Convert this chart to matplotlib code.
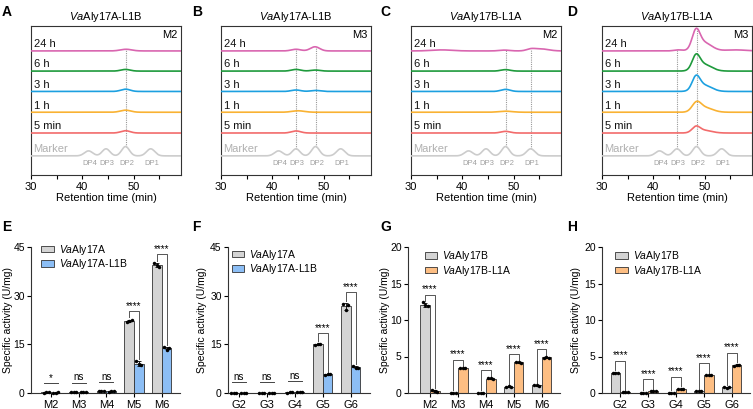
import numpy as np
import matplotlib
matplotlib.use('Agg')
import matplotlib.pyplot as plt
from matplotlib.patches import Patch

plt.rcParams['font.family'] = ['Liberation Sans', 'DejaVu Sans']
plt.rcParams['mathtext.fontset'] = 'custom'
plt.rcParams['mathtext.rm'] = 'Liberation Sans'
plt.rcParams['mathtext.it'] = 'Liberation Sans:italic'
plt.rcParams['axes.linewidth'] = 0.8
plt.rcParams['axes.edgecolor'] = '#333333'

################################################################## chromatogram data (A-D)
traceLabels = ['Marker', '5 min', '1 h', '3 h', '6 h', '24 h']
traceColors = ['#cccccc', '#f26b6b', '#f9b233', '#1ca0e0', '#1e9a3c', '#d966b0']
markerNames = ['DP4', 'DP3', 'DP2', 'DP1']
# (retention time, height, width) of each peak
markerPeaks = [(41.2, 0.24, 0.8), (44.6, 0.34, 0.75), (48.4, 0.45, 0.75), (53.3, 0.34, 0.8)]

# peaks for 5 min, 1 h, 3 h, 6 h, 24 h
peaksA = [[(48.4, 0.11, 0.9)],
          [(48.4, 0.10, 1.0)],
          [(48.4, 0.11, 0.9)],
          [(48.4, 0.08, 0.9)],
          [(48.5, 0.08, 1.1)]]
peaksB = [[(44.6, 0.10, 0.9)],
          [(45.0, 0.07, 1.2)],
          [(44.6, 0.07, 0.9), (48.4, 0.05, 0.9)],
          [(44.6, 0.08, 0.9), (48.4, 0.05, 0.9)],
          [(44.6, 0.08, 0.9), (48.3, 0.20, 0.9)]]
peaksC = [[(48.4, 0.08, 0.9)],
          [(48.4, 0.05, 1.3)],
          [(48.4, 0.10, 0.9)],
          [(48.4, 0.07, 0.9)],
          [(36.0, 0.05, 2.0), (48.2, 0.04, 1.0), (53.3, 0.07, 0.8), (55.2, 0.10, 1.5)]]
peaksD = [[(48.3, 0.26, 0.75), (49.8, 0.13, 1.5)],
          [(48.4, 0.40, 0.85), (50.0, 0.22, 1.5)],
          [(48.3, 0.60, 0.75), (49.8, 0.30, 1.5)],
          [(48.3, 0.63, 0.75), (49.8, 0.32, 1.5)],
          [(44.8, 0.05, 0.8), (48.3, 0.84, 0.75), (49.8, 0.40, 1.5), (56.0, 0.05, 2.0)]]

chromTitles = [r'$\it{Va}$Aly17A-L1B', r'$\it{Va}$Aly17A-L1B', r'$\it{Va}$Aly17B-L1A', r'$\it{Va}$Aly17B-L1A']
chromSubstrates = ['M2', 'M3', 'M2', 'M3']
chromDotted = [[2], [1, 2], [2, 3], [1, 2]]   # index into markerNames
chromPeaks = [peaksA, peaksB, peaksC, peaksD]

################################################################## specific activity data (E-H)
groupsM = ['M2', 'M3', 'M4', 'M5', 'M6']
groupsG = ['G2', 'G3', 'G4', 'G5', 'G6']

E_wt = [[0.15, 0.20, 0.25], [0.25, 0.30, 0.35], [0.55, 0.60, 0.70], [22.0, 22.3, 22.6], [40.2, 39.3, 38.9]]
E_mut = [[0.10, 0.15, 0.20], [0.35, 0.40, 0.45], [0.45, 0.50, 0.55], [9.8, 8.8, 8.6], [14.1, 13.4, 13.8]]
E_sig = ['*', 'ns', 'ns', '****', '****']

F_wt = [[0.10, 0.10, 0.12], [0.08, 0.10, 0.10], [0.15, 0.20, 0.25], [14.8, 15.2, 15.0], [27.5, 25.6, 27.1]]
F_mut = [[0.05, 0.08, 0.10], [0.10, 0.10, 0.12], [0.20, 0.25, 0.30], [5.7, 5.9, 5.8], [8.2, 7.6, 7.8]]
F_sig = ['ns', 'ns', 'ns', '****', '****']

G_wt = [[12.4, 12.0, 11.9], [0.05, 0.05, 0.05], [0.05, 0.05, 0.05], [0.85, 0.90, 0.85], [1.05, 1.10, 1.00]]
G_mut = [[0.40, 0.25, 0.15], [3.45, 3.40, 3.40], [2.00, 2.00, 1.95], [4.20, 4.25, 4.15], [4.85, 4.90, 4.85]]
G_sig = ['****', '****', '****', '****', '****']

H_wt = [[2.80, 2.80, 2.75], [0.05, 0.05, 0.05], [0.05, 0.05, 0.05], [0.30, 0.30, 0.30], [0.80, 0.75, 0.80]]
H_mut = [[0.15, 0.15, 0.15], [0.25, 0.30, 0.30], [0.60, 0.55, 0.60], [2.40, 2.50, 2.45], [3.75, 3.85, 3.90]]
H_sig = ['****', '****', '****', '****', '****']

legendA = [r'$\it{Va}$Aly17A', r'$\it{Va}$Aly17A-L1B']
legendB = [r'$\it{Va}$Aly17B', r'$\it{Va}$Aly17B-L1A']

GRAY = '#d4d4d4'
BLUE = '#8cbef5'
ORANGE = '#fdbe83'

W, H = 753, 409
fig = plt.figure(figsize=(W / 100, H / 100), dpi=100)


def pixAxes(x0, top, w, h):
    return fig.add_axes([x0 / W, (H - top - h) / H, w / W, h / H])


def traceValue(x, peaks):
    y = np.zeros_like(x)
    for c, hgt, wd in peaks:
        y = y + hgt * np.exp(-(x - c) ** 2 / (2 * wd ** 2))
    return y


##################################################################### top row
offsets = [0, 1.1, 2.1, 3.1, 4.08, 5.05]
xs = np.linspace(30, 59.2, 800)
topLefts = [31, 221, 411, 602]

for i in range(4):
    ax = pixAxes(topLefts[i], 26, 150, 149)
    allPeaks = [markerPeaks] + chromPeaks[i]
    for k in range(6):
        ys = traceValue(xs, allPeaks[k]) + offsets[k]
        ax.plot(xs, ys, color=traceColors[k], lw=1.2, solid_capstyle='round', zorder=3)
        ax.text(30.5, offsets[k] + 0.08, traceLabels[k], fontsize=8,
                color=('#b0b0b0' if k == 0 else '#111111'), ha='left', va='bottom')
    for j, name in enumerate(markerNames):
        ax.text(markerPeaks[j][0] + 0.2, -0.36, name, fontsize=5.5, color='#a0a0a0',
                ha='center', va='center')
    for j in chromDotted[i]:
        xc = markerPeaks[j][0]
        y0 = traceValue(np.array([xc]), markerPeaks)[0]
        y1 = traceValue(np.array([xc]), allPeaks[5])[0] + offsets[5]
        ax.plot([xc, xc], [y0, y1], color='#999999', lw=0.8, ls=(0, (1, 1)), zorder=2)
    ax.text(0.975, 0.975, chromSubstrates[i], transform=ax.transAxes, fontsize=8,
            ha='right', va='top')
    ax.set_xlim(30, 59.2)
    ax.set_ylim(-0.92, 6.25)
    ax.set_yticks([])
    ax.set_xticks([30, 40, 50])
    ax.set_xticks([35, 45, 55], minor=True)
    ax.tick_params(axis='x', which='both', length=3, width=0.8, labelsize=8, pad=2)
    ax.set_xlabel('Retention time (min)', fontsize=8, labelpad=1)
    ax.set_title(chromTitles[i], fontsize=8, pad=4)

##################################################################### bottom row


def drawBars(ax, groups, wt, mut, colB, sig, ymax, yticks, gap, legendNames, legendPos, labelX):
    x = np.arange(len(groups))
    bw = 0.35
    wt = np.array(wt)
    mut = np.array(mut)
    tops = []
    for vals, shift, col in [(wt, -0.175, GRAY), (mut, 0.175, colB)]:
        mean = vals.mean(axis=1)
        sd = vals.std(axis=1, ddof=1)
        ax.bar(x + shift, mean, width=bw, color=col, edgecolor='#333333', lw=0.6, zorder=2)
        ax.errorbar(x + shift, mean, yerr=sd, fmt='none', ecolor='black', elinewidth=0.6,
                    capsize=1.5, capthick=0.6, zorder=3)
        for r, dx in enumerate([-0.09, 0.0, 0.09]):
            ax.plot(x + shift + dx, vals[:, r], 'o', color='black', ms=2.5, mew=0, zorder=4,
                    clip_on=False)
        tops.append(mean + sd)
    legPad = 0.015 * ymax
    for g in range(len(groups)):
        yb = max(tops[0][g], tops[1][g]) + gap
        if sig[g] in ('ns', '*'):
            ax.plot([g - 0.25, g + 0.25], [yb, yb], color='#444444', lw=0.7, clip_on=False)
        else:
            ax.plot([g - 0.175, g - 0.175, g + 0.175, g + 0.175],
                    [tops[0][g] + legPad, yb, yb, tops[1][g] + legPad],
                    color='#555555', lw=0.7, clip_on=False)
        ax.text(g, yb + 0.002 * ymax, sig[g], fontsize=7, ha='center', va='bottom')
    ax.set_ylim(0, ymax)
    ax.set_yticks(yticks)
    ax.set_xticks(x)
    ax.set_xticklabels(groups)
    ax.spines['top'].set_visible(False)
    ax.spines['right'].set_visible(False)
    ax.tick_params(length=3, width=0.8, labelsize=8, pad=2)
    ax.tick_params(axis='y', labelsize=7.5, pad=1.5)
    ax.set_ylabel('Specific activity (U/mg)', fontsize=7.5)
    ax.yaxis.set_label_coords(labelX, 0.5)
    handles = [Patch(facecolor=GRAY, edgecolor='#333333', lw=0.6),
               Patch(facecolor=colB, edgecolor='#333333', lw=0.6)]
    ax.legend(handles, legendNames, loc='upper left', bbox_to_anchor=legendPos, frameon=False,
              fontsize=7.5, handlelength=1.2, handleheight=0.55, handletextpad=0.5,
              labelspacing=0.05, borderpad=0, borderaxespad=0)


axE = pixAxes(31, 247, 149, 146)
drawBars(axE, groupsM, E_wt, E_mut, BLUE, E_sig, 45, [0, 15, 30, 45], 2.7, legendA, (0.07, 1.03), -0.124)
axE.set_xlim(-0.72, 4.66)

axF = pixAxes(228, 247, 142, 146)
drawBars(axF, groupsG, F_wt, F_mut, BLUE, F_sig, 45, [0, 15, 30, 45], 3.3, legendA, (0.025, 0.995), -0.151)
axF.set_xlim(-0.38, 4.69)

axG = pixAxes(408, 247, 152, 146)
drawBars(axG, groupsM, G_wt, G_mut, ORANGE, G_sig, 20, [0, 5, 10, 15, 20], 1.1, legendB, (0.11, 0.985), -0.116)
axG.set_xlim(-0.79, 4.66)

axH = pixAxes(602, 247, 148, 146)
drawBars(axH, groupsG, H_wt, H_mut, ORANGE, H_sig, 20, [0, 5, 10, 15, 20], 1.6, legendB, (0.088, 0.985), -0.139)
axH.set_xlim(-0.66, 4.66)

##################################################################### panel letters
for letter, px, py in [('A', 2, 12.5), ('B', 192, 12.5), ('C', 380, 12.5), ('D', 567, 12.5),
                       ('E', 2, 227), ('F', 192, 227), ('G', 380, 227), ('H', 567, 227)]:
    fig.text(px / W, 1 - py / H, letter, fontsize=10, fontweight='bold', ha='left', va='center')

fig.savefig('out.png', dpi=100)
